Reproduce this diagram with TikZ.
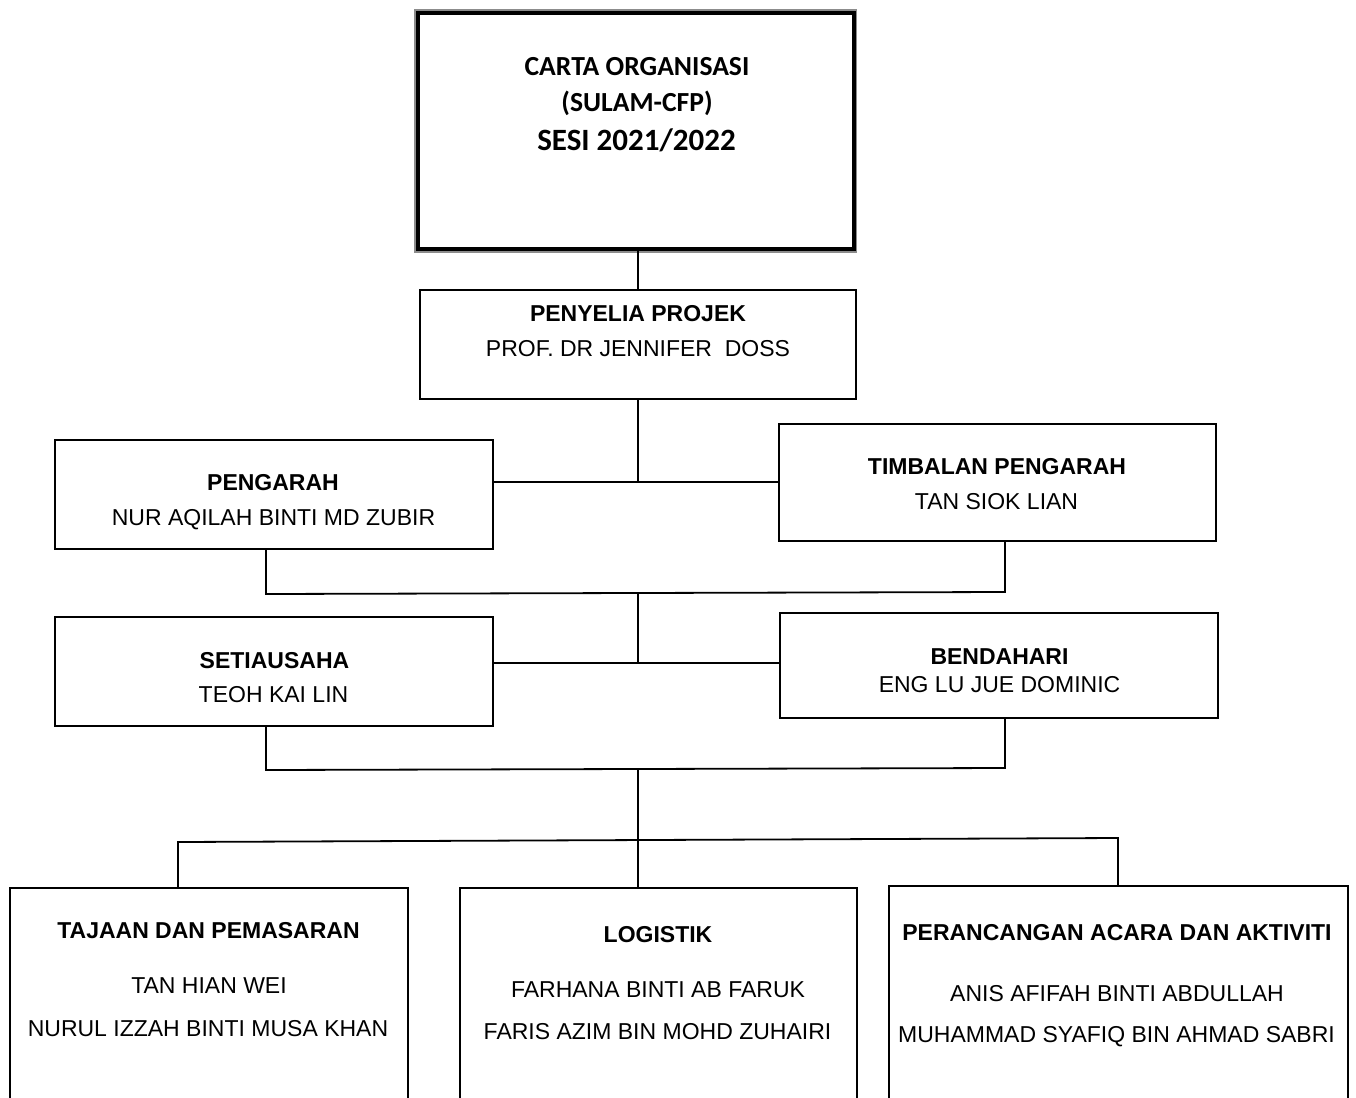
\documentclass[tikz,border=0pt]{standalone}
\usepackage{fontspec}
\setmainfont{Liberation Sans}
\newfontfamily\carl{Carlito}
\begin{document}
\begin{tikzpicture}[x=1pt,y=-1pt,
  box/.style={draw=black, line width=1.8pt, rectangle, inner sep=0pt},
  head/.style={font=\fontsize{23}{27}\selectfont\bfseries, inner sep=0pt, anchor=base},
  pname/.style={font=\fontsize{23}{27}\selectfont, inner sep=0pt, anchor=base},
  ttl/.style={font=\carl\fontsize{27.6}{32}\selectfont\bfseries, inner sep=0pt, anchor=base},
  conn/.style={line width=1.8pt, line cap=rect}]
\useasboundingbox (0,0) rectangle (1356,1097);
\clip (0,0) rectangle (1356,1097);
\fill[white] (0,0) rectangle (1356,1097);
% title box
\draw[black!45, line width=2pt] (415,10) rectangle (856,252);
\node[draw=black, line width=4pt, minimum width=436pt, minimum height=236pt, inner sep=0pt] (title) at (635.5,131) {};
\node[ttl] (t1) at (637,76) {CARTA ORGANISASI};
\node[ttl] (t2) at (637,112) {(SULAM-CFP)};
\node[ttl, font=\carl\fontsize{31}{36}\selectfont\bfseries] (t3) at (636.5,150) {SESI 2021/2022};
% boxes
\node[box, minimum width=436pt, minimum height=109pt] (peny) at (638,344.5) {};
\node[box, minimum width=438pt, minimum height=109pt] (peng) at (274,494.5) {};
\node[box, minimum width=437pt, minimum height=117pt] (timb) at (997.5,482.5) {};
\node[box, minimum width=438pt, minimum height=109pt] (seti) at (274,671.5) {};
\node[box, minimum width=438pt, minimum height=105pt] (bend) at (999,665.5) {};
\node[box, minimum width=398pt, minimum height=232pt] (taj) at (209,1004) {};
\node[box, minimum width=397pt, minimum height=232pt] (log) at (658.5,1004) {};
\node[box, minimum width=459pt, minimum height=234pt] (per) at (1118.5,1003) {};
% texts
\node[head] (a1) at (638,321) {PENYELIA PROJEK};
\node[pname] (a2) at (638,356) {PROF. DR JENNIFER\ \ DOSS};
\node[head] (b1) at (273,490) {PENGARAH};
\node[pname] (b2) at (273.5,525) {NUR AQILAH BINTI MD ZUBIR};
\node[head] (c1) at (997,474) {TIMBALAN PENGARAH};
\node[pname] (c2) at (996.5,509) {TAN SIOK LIAN};
\node[head] (d1) at (274.5,668) {SETIAUSAHA};
\node[pname] (d2) at (273.5,702) {TEOH KAI LIN};
\node[head] (e1) at (999.5,664) {BENDAHARI};
\node[pname] (e2) at (999.5,692) {ENG LU JUE DOMINIC};
\node[head] (f1) at (208.5,938) {TAJAAN DAN PEMASARAN};
\node[pname] (f2) at (209,993) {TAN HIAN WEI};
\node[pname] (f3) at (208,1036) {NURUL IZZAH BINTI MUSA KHAN};
\node[head] (g1) at (658,942) {LOGISTIK};
\node[pname] (g2) at (658,997) {FARHANA BINTI AB FARUK};
\node[pname] (g3) at (657.5,1039) {FARIS AZIM BIN MOHD ZUHAIRI};
\node[head] (h1) at (1117,940) {PERANCANGAN ACARA DAN AKTIVITI};
\node[pname] (h2) at (1117,1001) {ANIS AFIFAH BINTI ABDULLAH};
\node[pname] (h3) at (1116.5,1042) {MUHAMMAD SYAFIQ BIN AHMAD SABRI};
% junctions
\coordinate (j1) at (638,482);
\coordinate (j2) at (638,594);
\coordinate (j2a) at (266,594);
\coordinate (j2b) at (1005,592);
\coordinate (j3) at (638,663);
\coordinate (j4) at (638,770);
\coordinate (j4a) at (266,770);
\coordinate (j4b) at (1005,768);
\coordinate (j5a) at (178,842);
\coordinate (j5b) at (1118,838);
% connectors
\draw[conn] (peny.north |- title.south) -- (peny.north);
\draw[conn] (peny.south) -- (j1);
\draw[conn] (peng.east |- j1) -- (timb.west |- j1);
\draw[conn] (j2a |- peng.south) -- (j2a) -- (j2b) -- (j2b |- timb.south);
\draw[conn] (j2) -- (j3);
\draw[conn] (seti.east |- j3) -- (bend.west |- j3);
\draw[conn] (j4a |- seti.south) -- (j4a) -- (j4b) -- (j4b |- bend.south);
\draw[conn] (j4) -- (j4 |- log.north);
\draw[conn] (j5a |- taj.north) -- (j5a) -- (j5b) -- (j5b |- per.north);
\end{tikzpicture}
\end{document}
